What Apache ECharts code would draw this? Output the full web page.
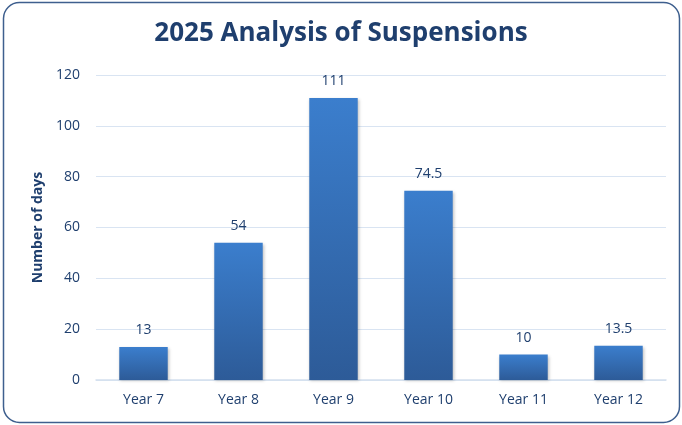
<!DOCTYPE html>
<html>
<head>
<meta charset="utf-8">
<script src="https://cdn.jsdelivr.net/npm/echarts@6/dist/echarts.min.js"></script>
<style>
  html, body { margin: 0; padding: 0; background: #ffffff; }
  #chart { width: 682px; height: 425px; }
</style>
</head>
<body>
<div id="chart"></div>
<script>
// Days of suspension per year group, 2025
const yearGroups = ['Year 7', 'Year 8', 'Year 9', 'Year 10', 'Year 11', 'Year 12'];
const suspensionDays = [13, 54, 111, 74.5, 10, 13.5];
const yTicks = { min: 0, max: 120, interval: 20 };

const textColor = '#1f3f6e';
const chart = echarts.init(document.getElementById('chart'), null, { renderer: 'canvas' });

chart.setOption({
  backgroundColor: '#ffffff',
  animation: false,
  graphic: [{
    type: 'rect',
    shape: { x: 3.5, y: 2.5, width: 676, height: 420, r: 16 },
    style: { fill: 'none', stroke: '#3e5f8e', lineWidth: 1.5 },
    z: 100
  }],
  title: {
    text: '2025 Analysis of Suspensions',
    left: 'center',
    top: 16,
    textStyle: { fontFamily: 'Open Sans', fontWeight: 'bold', fontSize: 26, color: textColor }
  },
  grid: { left: 96, right: 16, top: 75, bottom: 45, containLabel: false },
  xAxis: {
    type: 'category',
    data: yearGroups,
    axisLine: { show: true, lineStyle: { color: '#d4dfee', width: 1.5 } },
    axisTick: { show: false },
    axisLabel: { color: textColor, fontFamily: 'Open Sans', fontSize: 14, margin: 13 }
  },
  yAxis: {
    type: 'value',
    min: yTicks.min,
    max: yTicks.max,
    interval: yTicks.interval,
    name: 'Number of days',
    nameLocation: 'middle',
    nameGap: 50,
    nameTextStyle: { color: textColor, fontFamily: 'Open Sans', fontWeight: 'bold', fontSize: 14 },
    axisLine: { show: false },
    axisTick: { show: false },
    axisLabel: { color: textColor, fontFamily: 'Open Sans', fontSize: 14, margin: 16 },
    splitLine: { lineStyle: { color: '#d9e4f2', width: 1 } }
  },
  series: [{
    type: 'bar',
    data: suspensionDays,
    barWidth: '51%',
    itemStyle: {
      color: new echarts.graphic.LinearGradient(0, 0, 0, 1, [
        { offset: 0, color: '#3b7ecd' },
        { offset: 1, color: '#2d5b98' }
      ]),
      shadowColor: 'rgba(0,0,0,0.25)',
      shadowBlur: 3,
      shadowOffsetX: 1,
      shadowOffsetY: 1
    },
    label: {
      show: true,
      position: 'top',
      distance: 10,
      color: textColor,
      fontFamily: 'Open Sans',
      fontSize: 14
    }
  }]
});
</script>
</body>
</html>
